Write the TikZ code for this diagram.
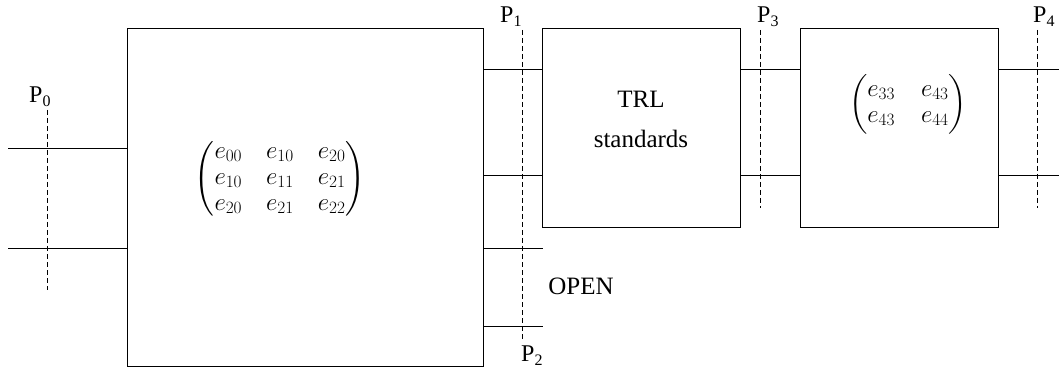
\documentclass[tikz,border=0pt]{standalone}
\usepackage{amsmath}
\usepackage{fontspec}
\setmainfont{Liberation Serif}
\DeclareMathSizes{24}{24}{16}{12}
\newcommand\plabel[1]{P\raisebox{-4pt}{\fontsize{16}{18}\selectfont #1}}
\begin{document}
\begin{tikzpicture}[x=1pt,y=-1pt,
  blk/.style={draw, line width=1pt, inner sep=0pt, outer sep=0pt},
  wire/.style={line width=1pt},
  refplane/.style={line width=1pt, dash pattern=on 5pt off 3pt},
  txt/.style={font=\fontsize{25}{30}\selectfont, inner sep=0pt, anchor=base},
  plbl/.style={font=\fontsize{24}{28}\selectfont, inner sep=0pt, anchor=base west},
  mat/.style={font=\fontsize{24}{26}\selectfont, inner sep=0pt}]
\useasboundingbox (0,0) rectangle (1059,371);
% boxes
\node[blk, minimum width=356pt, minimum height=337pt] (A) at (305,197.5) {};
\node[blk, minimum width=198pt, minimum height=199pt] (B) at (641,128.5) {};
\node[blk, minimum width=198pt, minimum height=199pt] (C) at (899,128.5) {};
% matrices and text
\node[mat] (mA) at (280,179) {$\setlength\arraycolsep{12pt}\begin{pmatrix} e_{00} & e_{10} & e_{20}\\ e_{10} & e_{11} & e_{21}\\ e_{20} & e_{21} & e_{22}\end{pmatrix}$};
\node[mat] (mC) at (908,104) {$\setlength\arraycolsep{13pt}\begin{pmatrix} e_{33} & e_{43}\\ e_{43} & e_{44}\end{pmatrix}$};
\node[txt] (trl1) at (641,108) {TRL};
\node[txt] (trl2) at (641,148) {standards};
\node[txt] (open) at (581,294) {OPEN};
% left wires
\coordinate (w0a) at (8,149);
\coordinate (w0b) at (8,248);
\draw[wire] (w0a) -- (w0a -| A.west);
\draw[wire] (w0b) -- (w0b -| A.west);
% A to B wires
\coordinate (w1a) at (483,70);
\coordinate (w1b) at (483,176);
\draw[wire] (w1a) -- (w1a -| B.west);
\draw[wire] (w1b) -- (w1b -| B.west);
% open stubs
\coordinate (o1) at (543,248);
\coordinate (o2) at (543,326);
\draw[wire] (o1 -| A.east) -- (o1);
\draw[wire] (o2 -| A.east) -- (o2);
% B to C wires
\draw[wire] (w1a -| B.east) -- (w1a -| C.west);
\draw[wire] (w1b -| B.east) -- (w1b -| C.west);
% right wires
\coordinate (r1) at (1059,70);
\coordinate (r2) at (1059,176);
\draw[wire] (r1 -| C.east) -- (r1);
\draw[wire] (r2 -| C.east) -- (r2);
% reference planes
\coordinate (p0t) at (47,110);
\coordinate (p0b) at (47,290);
\coordinate (p1t) at (522,30);
\coordinate (p1b) at (522,340);
\coordinate (p3t) at (760,30);
\coordinate (p3b) at (760,208);
\coordinate (p4t) at (1037,30);
\coordinate (p4b) at (1037,208);
\draw[refplane] (p0t) -- (p0b);
\draw[refplane] (p1t) -- (p1b);
\draw[refplane] (p3t) -- (p3b);
\draw[refplane] (p4t) -- (p4b);
% labels
\node[plbl] (P0) at (29,103) {\plabel{0}};
\node[plbl] (P1) at (500,23) {\plabel{1}};
\node[plbl] (P2) at (521,361) {\plabel{2}};
\node[plbl] (P3) at (757,23) {\plabel{3}};
\node[plbl] (P4) at (1033,23) {\plabel{4}};
\end{tikzpicture}
\end{document}
